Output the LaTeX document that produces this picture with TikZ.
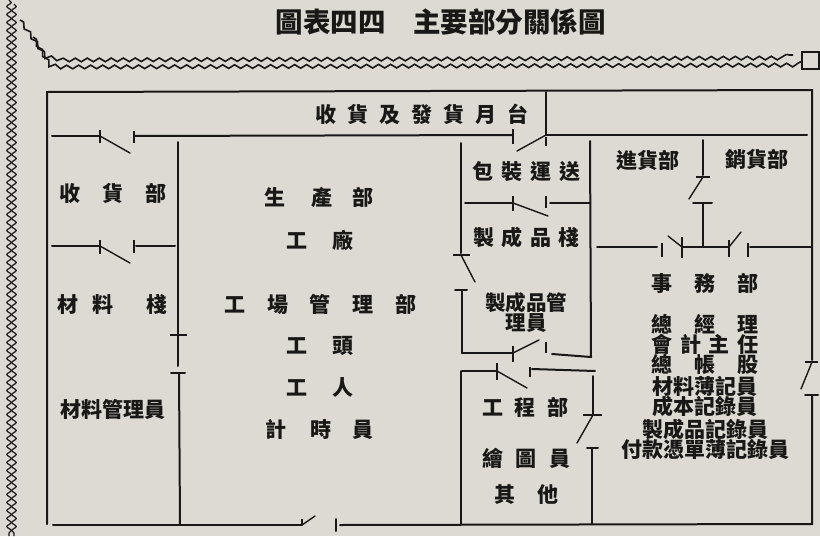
\documentclass[tikz,border=0pt]{standalone}
\usepackage{fontspec}
\newfontfamily\cjk{Noto Sans CJK TC}
\usetikzlibrary{decorations.pathmorphing}
\definecolor{paper}{RGB}{220,218,211}
\definecolor{ink}{RGB}{26,24,22}
\newcommand{\gp}[1]{\hspace{#1pt}}
\begin{document}
\begin{tikzpicture}[x=1pt,y=-1pt,
  wall/.style={draw=ink,line width=2pt,line cap=round},
  leaf/.style={draw=ink,line width=1.4pt,line cap=round},
  tk/.style={draw=ink,line width=1.3pt},
  lbl/.style={text=ink,inner sep=0pt,font=\cjk\bfseries\fontsize{21}{21}\selectfont},
  wave/.style={draw=ink,line width=1.6pt,decorate,decoration={snake,segment length=12pt,amplitude=1.8pt}},
  vwave/.style={draw=ink,line width=1.2pt,decorate,decoration={snake,segment length=8pt,amplitude=2.2pt}}]
\fill[paper] (0,0) rectangle (820,536);
\useasboundingbox (0,0) rectangle (820,536);

% ---- wavy lines (outside)
\draw[vwave] (9,0) -- (9,536);
\draw[vwave] (14,4) -- (14,536);
\draw[wave] (20,20) -- (44,54) -- (60,57) -- (793,55);
\draw[wave] (33,37) -- (48,62) -- (60,64) -- (802,62);
\draw[draw=ink,line width=2pt] (802,52) rectangle (819,69);

% ---- outer walls
\draw[wall] (47,524) -- (47,92) -- (812,90) -- (812,360);
\draw[tk] (805,362) -- (818,362);
\draw[leaf] (812,362) -- (801,389);
\draw[wall] (805,395) -- (818,395);
\draw[wall] (812,395) -- (812,524) -- (340,525);
\draw[wall] (336,519) -- (336,531);
\draw[wall] (53,525) -- (302,525);
\draw[leaf] (302,525) -- (315,516);
\draw[tk] (302,519) -- (302,525);

% ---- platform
\draw[wall] (546,92) -- (546,135);
\draw[wall] (52,136) -- (100,136);
\draw[tk] (100,130) -- (100,143);
\draw[leaf] (100,136) -- (130,153);
\draw[tk] (134,131) -- (134,143);
\draw[wall] (134,136) -- (513,135);
\draw[tk] (513,129) -- (513,144);
\draw[leaf] (546,135) -- (517,151);
\draw[tk] (546,137) -- (546,146);
\draw[wall] (546,135) -- (807,135);

% ---- left column
\draw[wall] (178,142) -- (178,366);
\draw[tk] (170,335) -- (187,335);
\draw[wall] (171,373) -- (185,373);
\draw[wall] (179,373) -- (180,524);
\draw[wall] (52,246) -- (100,246);
\draw[tk] (100,240) -- (100,254);
\draw[leaf] (100,246) -- (130,263);
\draw[tk] (134,240) -- (134,253);
\draw[wall] (136,246) -- (175,246);

% ---- column 2
\draw[wall] (461,143) -- (461,253);
\draw[tk] (453,255) -- (470,255);
\draw[leaf] (461,255) -- (475,282);
\draw[wall] (455,290) -- (467,290);
\draw[wall] (462,290) -- (462,353);
\draw[wall] (590,141) -- (591,357);
\draw[wall] (465,203) -- (513,203);
\draw[tk] (513,196) -- (513,211);
\draw[leaf] (513,203) -- (548,216);
\draw[tk] (546,196) -- (546,208);
\draw[wall] (550,203) -- (590,203);
\draw[wall] (462,353) -- (513,353);
\draw[tk] (513,346) -- (513,362);
\draw[leaf] (513,353) -- (539,340);
\draw[tk] (546,342) -- (546,353);
\draw[wall] (552,354) -- (591,357);
\draw[wall] (462,371) -- (497,371);
\draw[tk] (497,363) -- (497,380);
\draw[leaf] (497,371) -- (527,388);
\draw[tk] (530,367) -- (530,377);
\draw[wall] (532,369) -- (595,371);
\draw[wall] (461,371) -- (461,524);
\draw[wall] (593,376) -- (593,415);
\draw[tk] (583,415) -- (602,415);
\draw[leaf] (593,415) -- (577,443);
\draw[wall] (587,448) -- (598,448);
\draw[wall] (592,448) -- (592,524);

% ---- right area
\draw[wall] (703,140) -- (703,175);
\draw[tk] (696,177) -- (710,177);
\draw[leaf] (703,177) -- (689,199);
\draw[wall] (693,203) -- (712,203);
\draw[wall] (703,203) -- (703,247);
\draw[wall] (597,247) -- (657,247);
\draw[tk] (662,243) -- (662,257);
\draw[leaf] (682,247) -- (668,236);
\draw[tk] (682,237) -- (682,258);
\draw[wall] (682,247) -- (728,247);
\draw[tk] (729,240) -- (729,257);
\draw[leaf] (729,247) -- (741,232);
\draw[tk] (748,243) -- (748,257);
\draw[wall] (750,247) -- (812,247);

% ---- labels
\node[lbl] (title) at (440.5,22) {\fontsize{27.5}{27.5}\selectfont 圖表四四\gp{27.5}主要部分關係圖};
\node[lbl] (plat) at (422,114) {收\gp{11}貨\gp{11}及\gp{11}發\gp{11}貨\gp{11}月\gp{11}台};
\node[lbl] (shou) at (113,193) {收\gp{22}貨\gp{22}部};
\node[lbl] (cailz) at (112.5,304) {材\gp{14}料\gp{33}棧};
\node[lbl] (cailg) at (113,409) {材料管理員};
\node[lbl] (sheng) at (319,198) {生\gp{26}產\gp{20}部};
\node[lbl] (gongc) at (320,240) {工\gp{25}廠};
\node[lbl] (gongcg) at (320.5,304) {工\gp{21.75}場\gp{21.75}管\gp{21.75}理\gp{21.75}部};
\node[lbl] (gongt) at (320,346) {工\gp{25}頭};
\node[lbl] (gongr) at (320,388) {工\gp{25}人};
\node[lbl] (jis) at (319.5,429) {計\gp{24}時\gp{21}員};
\node[lbl] (baoz) at (526.5,172) {包\gp{8}裝\gp{8}運\gp{8}送};
\node[lbl] (zhicz) at (526.5,237) {製\gp{7.3}成\gp{7.3}品\gp{7.3}棧};
\node[lbl,align=center,font=\cjk\bfseries\fontsize{20.5}{20}\selectfont] (zhicg) at (526,313) {製成品管\\理員};
\node[lbl] (gongcb) at (525.5,407) {工\gp{11.5}程\gp{11.5}部};
\node[lbl] (huit) at (526.5,458) {繪\gp{12.5}圖\gp{12.5}員};
\node[lbl] (qit) at (526.5,495) {其\gp{22}他};
\node[lbl] (jinh) at (648,160) {進貨部};
\node[lbl] (xiaoh) at (757,160) {銷貨部};
\node[lbl] (shiw) at (705,283) {事\gp{22}務\gp{22}部};
\node[lbl] (zongj) at (705,324) {總\gp{22}經\gp{22}理};
\node[lbl] (kuaij) at (705,344) {會\gp{7.7}計\gp{7.7}主\gp{7.7}任};
\node[lbl] (zongz) at (705,364) {總\gp{22}帳\gp{22}股};
\node[lbl] (cailb) at (705,386) {材料薄記員};
\node[lbl] (chengb) at (705,406) {成本記錄員};
\node[lbl] (zhicj) at (705,429) {製成品記錄員};
\node[lbl] (fuk) at (705,449) {付款憑單薄記錄員};
\end{tikzpicture}
\end{document}
